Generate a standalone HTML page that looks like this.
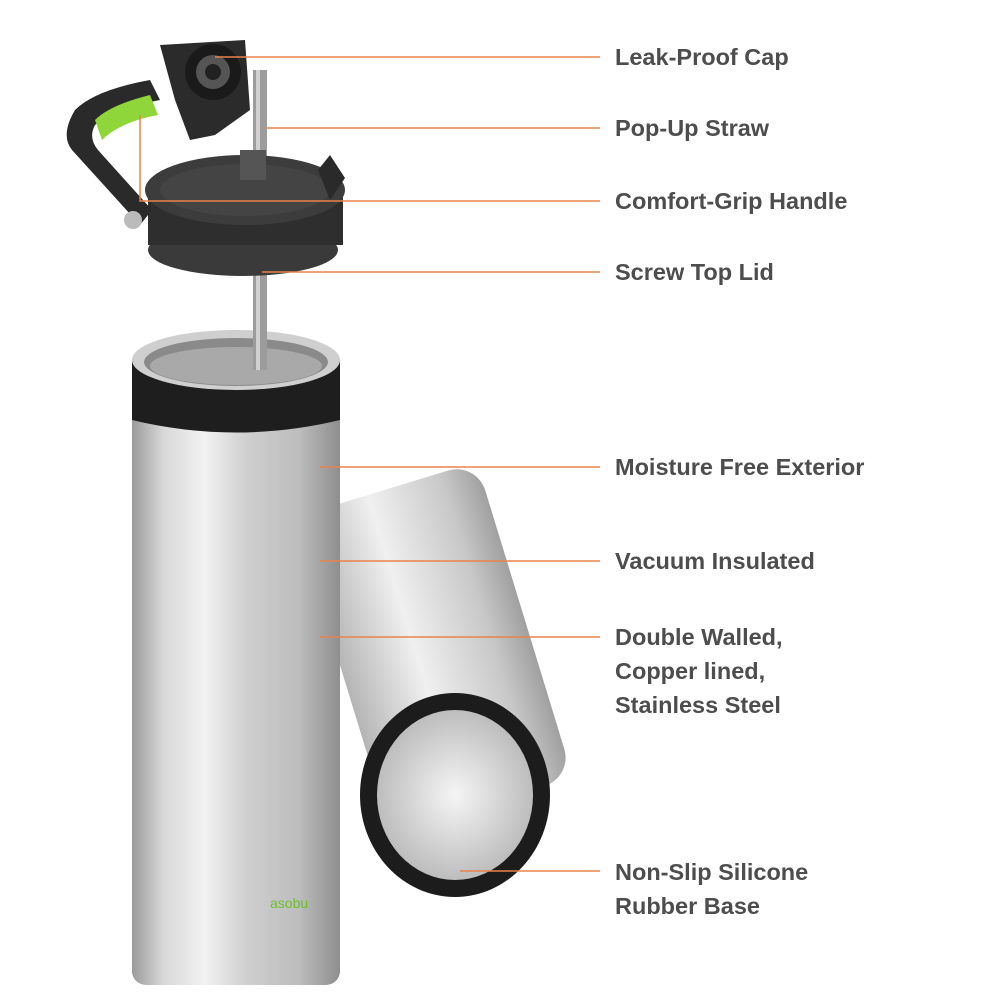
<!DOCTYPE html>
<html><head><meta charset="utf-8"><style>
html,body{margin:0;padding:0;background:#fff;}
.wrap{position:relative;width:1000px;height:1001px;overflow:hidden;}
svg{position:absolute;left:0;top:0;}
.t{position:absolute;left:615px;font-family:"Liberation Sans",sans-serif;font-weight:bold;font-size:23.5px;color:#4d4d4d;line-height:34px;white-space:nowrap;}
</style></head><body><div class="wrap">
<svg width="1000" height="1001" viewBox="0 0 1000 1001">
<defs>
<linearGradient id="steel" x1="0" x2="1" y1="0" y2="0">
<stop offset="0" stop-color="#9a9a9a"/><stop offset="0.15" stop-color="#d8d8d8"/><stop offset="0.35" stop-color="#f2f2f2"/><stop offset="0.55" stop-color="#cfcfcf"/><stop offset="0.8" stop-color="#bdbdbd"/><stop offset="1" stop-color="#8e8e8e"/>
</linearGradient>
<linearGradient id="steel2" x1="0" x2="1" y1="0" y2="0">
<stop offset="0" stop-color="#b5b5b5"/><stop offset="0.4" stop-color="#f0f0f0"/><stop offset="0.8" stop-color="#c8c8c8"/><stop offset="1" stop-color="#a0a0a0"/>
</linearGradient>
<radialGradient id="inner" cx="0.5" cy="0.5" r="0.5"><stop offset="0" stop-color="#f5f5f5"/><stop offset="1" stop-color="#bdbdbd"/></radialGradient>
</defs>
<g transform="rotate(-17 450 700)">
<rect x="355" y="480" width="190" height="330" rx="30" fill="url(#steel2)"/>
</g>
<ellipse cx="455" cy="795" rx="95" ry="102" fill="#1c1c1c"/>
<ellipse cx="455" cy="795" rx="78" ry="85" fill="url(#inner)"/>
<rect x="132" y="380" width="208" height="605" rx="14" fill="url(#steel)"/>
<path d="M132 360 L340 360 L340 420 Q236 445 132 420 Z" fill="#1e1e1e"/>
<ellipse cx="236" cy="360" rx="104" ry="30" fill="#cfcfcf"/>
<ellipse cx="236" cy="362" rx="92" ry="24" fill="#8a8a8a"/>
<ellipse cx="236" cy="366" rx="86" ry="19" fill="#a9a9a9"/>
<rect x="253" y="70" width="14" height="300" fill="#9c9c9c"/>
<rect x="256" y="70" width="4" height="300" fill="#d0d0d0"/>
<ellipse cx="243" cy="250" rx="95" ry="26" fill="#3a3a3a"/>
<rect x="148" y="190" width="195" height="55" fill="#2e2e2e"/>
<ellipse cx="245" cy="190" rx="100" ry="35" fill="#3c3c3c"/>
<ellipse cx="245" cy="190" rx="85" ry="26" fill="#444"/>
<rect x="240" y="150" width="26" height="30" fill="#555"/>
<path d="M140 225 L72 150 Q60 135 75 110 Q95 90 150 80 L160 100 Q110 110 95 125 Q88 138 98 150 L152 210 Z" fill="#2a2a2a"/>
<path d="M95 120 Q110 105 150 95 L158 115 Q120 122 102 140 Z" fill="#8fd63a"/>
<path d="M330 200 L345 178 L330 155 L318 170 Z" fill="#2a2a2a"/>
<circle cx="133" cy="220" r="9" fill="#bbb"/>
<path d="M160 45 L245 40 L250 110 L215 135 L190 140 L175 100 Z" fill="#2b2b2b"/>
<circle cx="213" cy="72" r="28" fill="#1a1a1a"/>
<circle cx="213" cy="72" r="17" fill="#555"/>
<circle cx="213" cy="72" r="8" fill="#222"/>
<g stroke="#e8834a" stroke-width="1.5" fill="none">
<line x1="215" y1="57" x2="600" y2="57"/>
<line x1="265" y1="128" x2="600" y2="128"/>
<polyline points="140,115 140,201 600,201"/>
<line x1="262" y1="272" x2="600" y2="272"/>
<line x1="320" y1="467" x2="600" y2="467"/>
<line x1="320" y1="561" x2="600" y2="561"/>
<line x1="320" y1="637" x2="600" y2="637"/>
<line x1="460" y1="871" x2="600" y2="871"/>
</g>
<text x="270" y="908" font-family="Liberation Sans,sans-serif" font-size="14" fill="#6cbf2a">asobu</text>
</svg>
<div class="t" style="top:40px">Leak-Proof Cap</div>
<div class="t" style="top:111px">Pop-Up Straw</div>
<div class="t" style="top:184px">Comfort-Grip Handle</div>
<div class="t" style="top:255px">Screw Top Lid</div>
<div class="t" style="top:450px">Moisture Free Exterior</div>
<div class="t" style="top:544px">Vacuum Insulated</div>
<div class="t" style="top:620px">Double Walled,<br>Copper lined,<br>Stainless Steel</div>
<div class="t" style="top:855px">Non-Slip Silicone<br>Rubber Base</div>
</div></body></html>
